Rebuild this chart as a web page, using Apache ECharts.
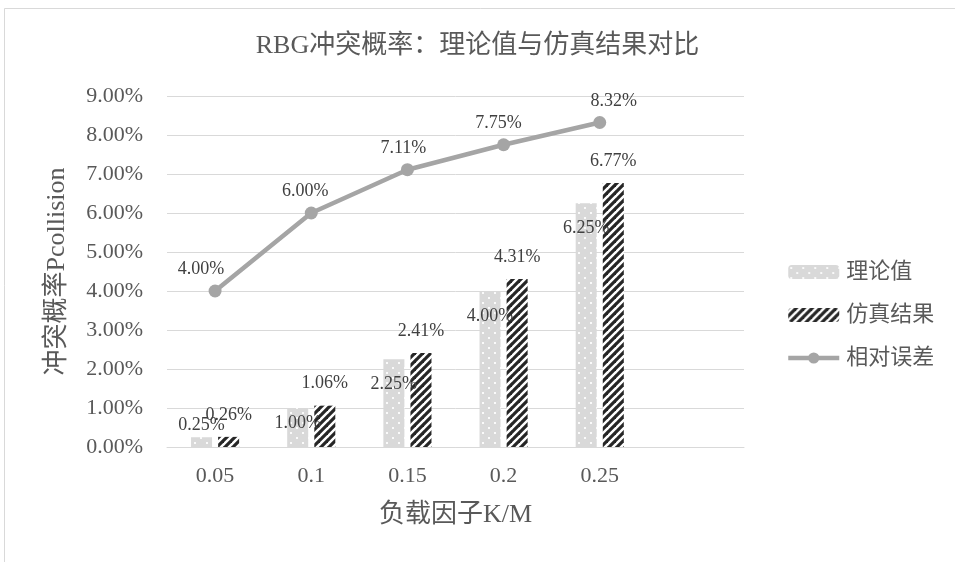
<!DOCTYPE html>
<html>
<head>
<meta charset="utf-8">
<script src="https://cdn.jsdelivr.net/npm/echarts@6/dist/echarts.min.js"></script>
<style>
  html, body { margin: 0; padding: 0; background: #fff; }
  #chart { width: 955px; height: 562px; }
</style>
</head>
<body>
<div id="chart"></div>
<script>
// Load factor K/M categories
var categories = ['0.05', '0.1', '0.15', '0.2', '0.25'];
// Collision probability (%)
var theoryValues = [0.25, 1.00, 2.25, 4.00, 6.25];
var simValues = [0.26, 1.06, 2.41, 4.31, 6.77];
// Relative error (%)
var errorValues = [4.00, 6.00, 7.11, 7.75, 8.32];
var yTicks = { min: 0, max: 9, interval: 1 };

var FONT = '"Liberation Serif", "Noto Sans CJK SC", serif';
var TEXT = '#595959';
var LABEL = '#404040';
var GRID = '#D9D9D9';

// horizontal nudges for the relative-error labels, in px
var errorLabelShift = [-14, -6, -4, -5, 14];

// light gray fill with small white dots
function dotPattern() {
  var c = document.createElement('canvas');
  c.width = 12; c.height = 10;
  var g = c.getContext('2d');
  g.fillStyle = '#D9D9D9';
  g.fillRect(0, 0, 12, 10);
  g.fillStyle = 'rgba(255,255,255,0.85)';
  g.fillRect(2, 2, 2, 2);
  g.fillRect(8, 7, 2, 2);
  return c;
}

// dark wide upward diagonal stripes
function stripePattern() {
  var s = 8;
  var c = document.createElement('canvas');
  c.width = s; c.height = s;
  var g = c.getContext('2d');
  g.fillStyle = '#ffffff';
  g.fillRect(0, 0, s, s);
  g.strokeStyle = '#262626';
  g.lineWidth = 3.2;
  g.lineCap = 'square';
  [[0, s, s, 0], [-s / 2, s / 2, s / 2, -s / 2], [s / 2, s * 1.5, s * 1.5, s / 2]].forEach(function (l) {
    g.beginPath();
    g.moveTo(l[0], l[1]);
    g.lineTo(l[2], l[3]);
    g.stroke();
  });
  return c;
}

var dotFill = { image: dotPattern(), repeat: 'repeat' };
var stripeFill = { image: stripePattern(), repeat: 'repeat' };

function pct(v) { return v.toFixed(2) + '%'; }

// theory labels sit inside the bar top, short bars get them above
var theoryData = theoryValues.map(function (v) {
  var lab;
  if (v < 0.5) lab = { position: 'top', distance: 3 };
  else if (v < 1.5) lab = { position: 'insideTop', distance: 6 };
  else lab = { position: 'insideTop', distance: 16 };
  return { value: v, label: lab };
});

var errorData = errorValues.map(function (v, i) {
  return { value: v, label: { offset: [errorLabelShift[i], 0] } };
});

var chart = echarts.init(document.getElementById('chart'), null, { renderer: 'canvas' });

chart.setOption({
  animation: false,
  backgroundColor: '#ffffff',
  textStyle: { fontFamily: FONT },
  graphic: [{
    type: 'rect',
    shape: { x: 4.5, y: 8.5, width: 1200, height: 1000 },
    style: { fill: 'none', stroke: GRID, lineWidth: 1 },
    silent: true,
    z: -10
  }],
  title: {
    text: 'RBG冲突概率：理论值与仿真结果对比',
    left: 'center',
    top: 28,
    textStyle: { fontFamily: FONT, fontSize: 26, fontWeight: 'normal', color: TEXT }
  },
  legend: {
    orient: 'vertical',
    left: 786,
    top: 261,
    padding: 0,
    itemWidth: 51,
    itemHeight: 14,
    itemGap: 21,
    textStyle: { fontFamily: FONT, fontSize: 22, color: TEXT, padding: [0, 0, 0, 2] },
    data: [
      '理论值',
      '仿真结果',
      { name: '相对误差', lineStyle: { width: 4.5 } }
    ]
  },
  grid: { left: 167, right: 211, top: 96, bottom: 115 },
  xAxis: {
    type: 'category',
    data: categories.concat(['']),
    name: '负载因子K/M',
    nameLocation: 'middle',
    nameGap: 55,
    nameTextStyle: { fontFamily: FONT, fontSize: 26, color: TEXT },
    axisLine: { lineStyle: { color: GRID, width: 1 } },
    axisTick: { show: false },
    axisLabel: { fontFamily: FONT, fontSize: 22, color: TEXT, margin: 18 }
  },
  yAxis: {
    type: 'value',
    min: yTicks.min,
    max: yTicks.max,
    interval: yTicks.interval,
    name: '冲突概率Pcollision',
    nameLocation: 'middle',
    nameGap: 97,
    nameTextStyle: { fontFamily: FONT, fontSize: 26, color: TEXT },
    axisLine: { show: false },
    axisTick: { show: false },
    splitLine: { lineStyle: { color: GRID, width: 1 } },
    axisLabel: {
      fontFamily: FONT, fontSize: 22, color: TEXT, margin: 24,
      formatter: function (v) { return pct(v); }
    }
  },
  series: [
    {
      name: '理论值',
      type: 'bar',
      data: theoryData,
      barWidth: 21,
      barGap: '29%',
      itemStyle: { color: dotFill },
      label: {
        show: true,
        fontFamily: FONT, fontSize: 18, color: LABEL,
        formatter: function (p) { return pct(p.value); }
      }
    },
    {
      name: '仿真结果',
      type: 'bar',
      data: simValues,
      barWidth: 21,
      barGap: '29%',
      itemStyle: { color: stripeFill },
      label: {
        show: true, position: 'top', distance: 13,
        fontFamily: FONT, fontSize: 18, color: LABEL,
        formatter: function (p) { return pct(p.value); }
      }
    },
    {
      name: '相对误差',
      type: 'line',
      data: errorData,
      symbol: 'circle',
      symbolSize: 13,
      lineStyle: { color: '#A5A5A5', width: 4.5 },
      itemStyle: { color: '#A5A5A5' },
      z: 5,
      label: {
        show: true, position: 'top', distance: 6,
        fontFamily: FONT, fontSize: 18, color: LABEL,
        formatter: function (p) { return pct(p.value); }
      }
    }
  ]
});
</script>
</body>
</html>
